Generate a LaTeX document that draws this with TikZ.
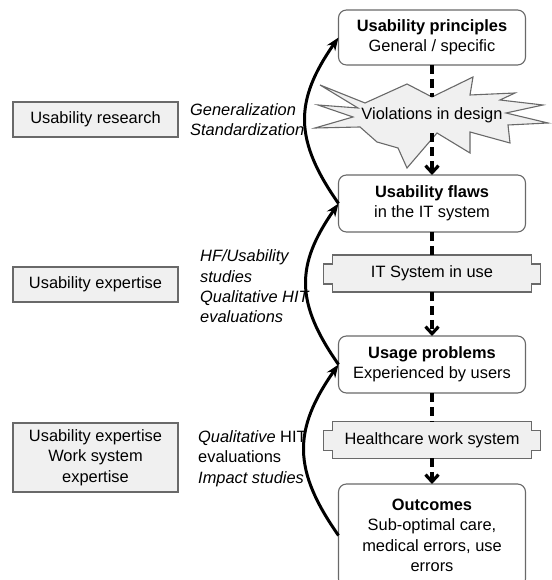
\documentclass[tikz,border=0pt]{standalone}
\usepackage{fontspec}
\setmainfont{Liberation Sans}
\usetikzlibrary{arrows.meta,backgrounds}
\definecolor{panel}{RGB}{240,240,240}
\definecolor{rim}{RGB}{105,105,105}
\newcommand{\picfont}{\fontsize{16.4}{20.3}\selectfont}
\tikzset{
  stage/.style={draw=rim, fill=white, line width=1.1pt, rounded corners=8pt, align=center, minimum width=187pt, inner sep=0pt, outer sep=0pt},
  source/.style={draw=rim, fill=panel, line width=1.1pt, align=center, minimum width=165pt, inner sep=0pt},
  method/.style={anchor=west, align=left, inner sep=0pt, font=\picfont\itshape},
  system/.style={minimum width=199pt, minimum height=37pt, inner sep=0pt, outer sep=0pt},
  tabbox/.style={draw=rim, fill=panel, line width=1.1pt},
  flow/.style={line width=3.2pt, dash pattern=on 9pt off 5pt},
  flowto/.style={flow, -{Straight Barb[length=7pt,width=13pt]}},
  feedback/.style={line width=3pt, -{Stealth[length=13pt,width=10pt]}},
}

\begin{document}
\begin{tikzpicture}[x=1pt, y=1pt, font=\picfont]
\useasboundingbox (0,0) rectangle (551,580);
\clip (0,0) rectangle (551,580);

% chain from principles to outcomes
\node[stage, minimum height=55pt] (princ) at (432,542.5) {\textbf{Usability principles}\\General / specific};
\node[minimum height=36pt, inner sep=0pt] (viol) at (432,465) {Violations in design};
\node[stage, minimum height=57pt] (flaws) at (432,376.5) {\textbf{Usability flaws}\\in the IT system};
\node[system] (itsys) at (432,306.5) {IT System in use};
\node[stage, minimum height=57pt] (usage) at (432,215.5) {\textbf{Usage problems}\\Experienced by users};
\node[system] (hcwork) at (432,140) {Healthcare work system};
\node[stage, minimum height=103pt] (outc) at (432,44.5) {\textbf{Outcomes}\\Sub-optimal care,\\medical errors, use\\errors};

% sources of knowledge
\node[source, minimum height=35pt] (res) at (95.5,460.5) {Usability research};
\node[source, minimum height=35pt] (uexp) at (95.5,295.5) {Usability expertise};
\node[source, minimum height=69pt] (wexp) at (95.5,122.5) {Usability expertise\\Work system\\expertise};

\node[method] (gen) at (190,460) {Generalization\\Standardization};
\node[method] (hf) at (200,293.5) {HF/Usability\\studies\\Qualitative HIT\\evaluations};
\node[method] (qual) at (198,121.5) {Qualitative \textup{HIT}\\\textup{evaluations}\\Impact studies};

\begin{scope}[on background layer]
\draw[tabbox] (320,495) -- (365,477) -- (407,496) -- (432,483) -- (473,503) -- (470,485) -- (515,487) -- (500,480) -- (543,475) -- (506,467) -- (548,457) -- (508,455) -- (510,437) -- (470,448) -- (470,427) -- (437,447) -- (407,412) -- (398,432) -- (377,438) -- (360,453) -- (315,452) -- (353,463) -- (318,475) -- (358,472) -- cycle;
\foreach \n in {itsys,hcwork}
  \draw[tabbox] (\n.north west) -- (\n.north east) -- ([yshift=-9pt]\n.north east) -- ++(9,0) -- ([xshift=9pt,yshift=8pt]\n.south east) -- ++(-9,0) -- (\n.south east) -- (\n.south west) -- ([yshift=8pt]\n.south west) -- ++(-9,0) -- ([xshift=-9pt,yshift=-9pt]\n.north west) -- ++(9,0) -- cycle;
\end{scope}

\draw[flow] (princ) -- (viol);
\draw[flowto] (viol) -- (flaws);
\draw[flow] (flaws) -- (itsys);
\draw[flowto] (itsys) -- (usage);
\draw[flow] (usage) -- (hcwork);
\draw[flowto] (hcwork) -- (outc);

\draw[feedback] (flaws.west) to[out=125,in=235,looseness=1.2] (princ.west);
\draw[feedback] (usage.west) to[out=125,in=235,looseness=1.2] (flaws.west);
\draw[feedback] (outc.west) to[out=125,in=235,looseness=1.2] (usage.west);
\end{tikzpicture}
\end{document}
